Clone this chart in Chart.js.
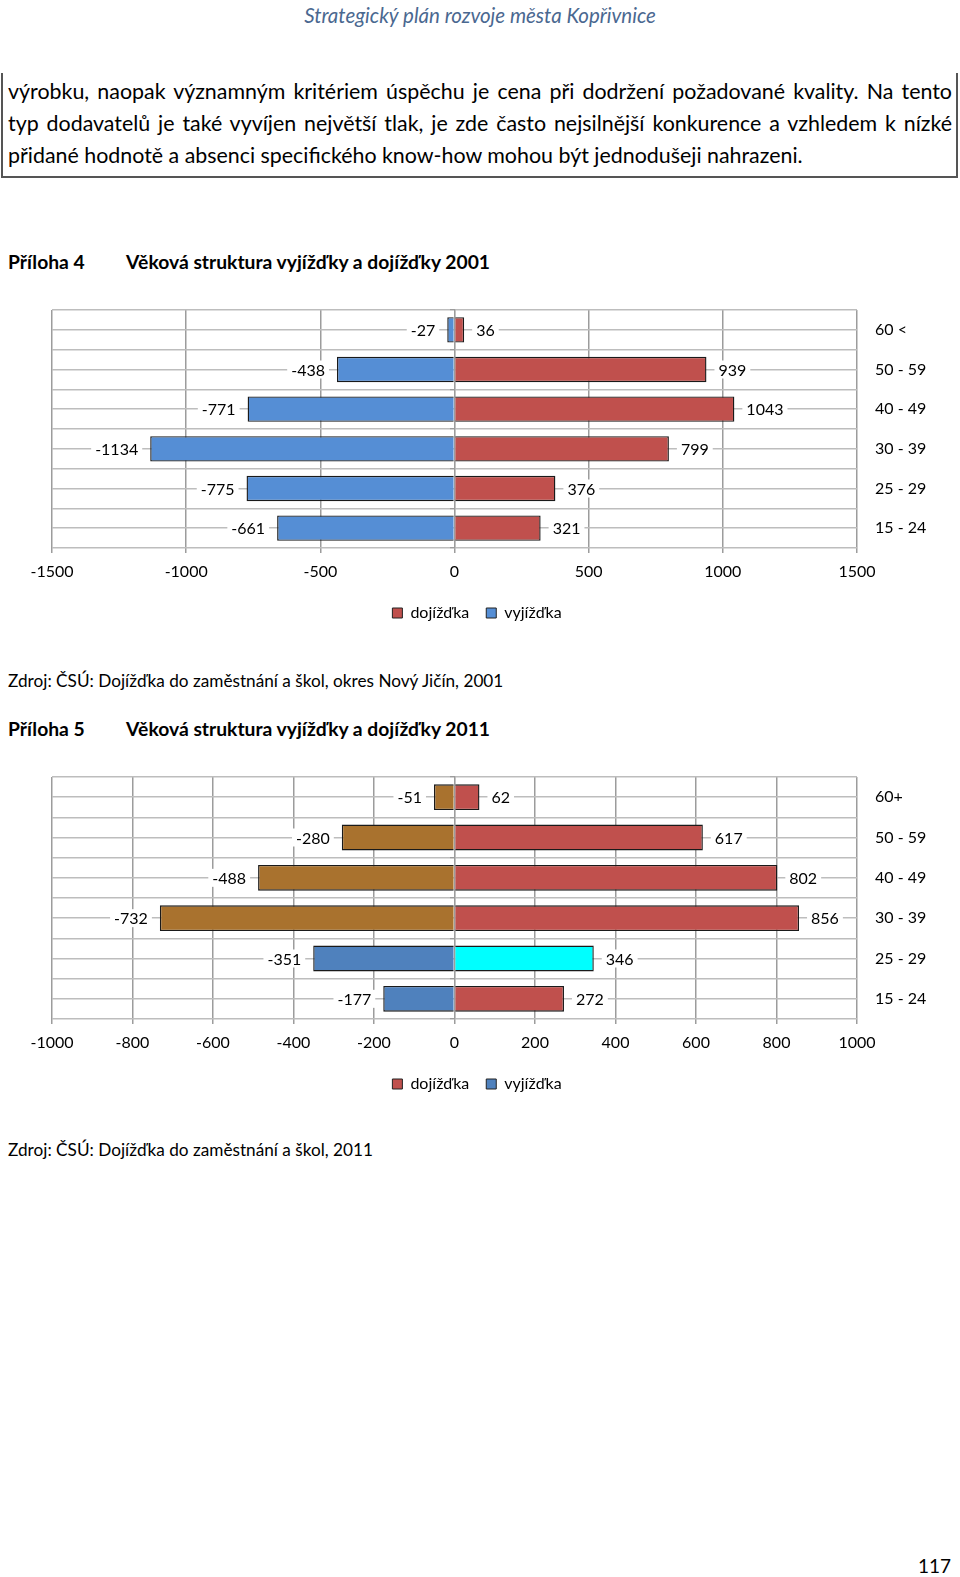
<!DOCTYPE html>
<html>
<head>
<meta charset="utf-8">
<script src="https://cdn.jsdelivr.net/npm/chart.js@4"></script>
<style>
 body{margin:0;width:960px;height:1577px;background:#fff;position:relative;font-family:Lato,sans-serif;color:#000;overflow:hidden}
 .t{position:absolute;white-space:nowrap}
 #head{left:0;width:960px;text-align:center;top:3px;line-height:24px;font-size:20.5px;font-style:italic;color:#4A6890}
 #box{position:absolute;left:1px;top:73px;width:944px;height:101px;border:2px solid #555;border-top:none;padding:0 4px 0 5px}
 #box div{font-size:21.4px;line-height:32.2px;white-space:nowrap}
 #box .j{text-align:justify;text-align-last:justify}
 .h{font-weight:bold;font-size:19.3px;line-height:24px}
 .src{font-size:17.2px;line-height:22px}
 canvas{position:absolute;left:0}
</style>
</head>
<body>
<div class="t" id="head">Strategický plán rozvoje města Kopřivnice</div>
<div id="box" style="padding-top:2px">
 <div class="j">výrobku, naopak významným kritériem úspěchu je cena při dodržení požadované kvality. Na tento</div>
 <div class="j">typ dodavatelů je také vyvíjen největší tlak, je zde často nejsilnější konkurence a vzhledem k nízké</div>
 <div>přidané hodnotě a absenci specifického know-how mohou být jednodušeji nahrazeni.</div>
</div>

<div class="t h" style="left:8px;top:250px">Příloha 4</div>
<div class="t h" style="left:126px;top:250px">Věková struktura vyjížďky a dojížďky 2001</div>
<div style="position:absolute;left:0;top:290px;width:960px;height:341px"><canvas id="c1"></canvas></div>
<div class="t src" style="left:8px;top:670px">Zdroj: ČSÚ: Dojížďka do zaměstnání a škol, okres Nový Jičín, 2001</div>

<div class="t h" style="left:8px;top:717px">Příloha 5</div>
<div class="t h" style="left:126px;top:717px">Věková struktura vyjížďky a dojížďky 2011</div>
<div style="position:absolute;left:0;top:755px;width:960px;height:347px"><canvas id="c2"></canvas></div>
<div class="t src" style="left:8px;top:1139px">Zdroj: ČSÚ: Dojížďka do zaměstnání a škol, 2011</div>

<div class="t" style="left:918px;top:1554px;font-size:19px;line-height:24px">117</div>

<script>
// data
const ageGroups2001 = ['60 <', '50 - 59', '40 - 49', '30 - 39', '25 - 29', '15 - 24'];
const dojizdka2001 = [36, 939, 1043, 799, 376, 321];
const vyjizdka2001 = [-27, -438, -771, -1134, -775, -661];
const xRange2001 = [-1500, 1500, 500];

const ageGroups2011 = ['60+', '50 - 59', '40 - 49', '30 - 39', '25 - 29', '15 - 24'];
const dojizdka2011 = [62, 617, 802, 856, 346, 272];
const vyjizdka2011 = [-51, -280, -488, -732, -351, -177];
const xRange2011 = [-1000, 1000, 200];

const legendNames = ['dojížďka', 'vyjížďka'];
const RED = '#C0504D', BLUE1 = '#558ED5', BLUE2 = '#4F81BD', BROWN = '#A9722E', CYAN = '#00FFFF';
const dojColors2001 = RED;
const vyjColors2001 = BLUE1;
const dojColors2011 = [RED, RED, RED, RED, CYAN, RED];
const vyjColors2011 = [BROWN, BROWN, BROWN, BROWN, BLUE2, BLUE2];
const legendColors1 = [RED, BLUE1];
const legendColors2 = [RED, BLUE2];

const FONT = {family: 'Lato', size: 16};
const GRID_V = '#9c9c9c', GRID_H = '#bdbdbd';

// value labels next to bar ends, on white so grid lines break
const barLabels = {
 id: 'barLabels',
 afterLayout(chart) {
  // let the right-hand category labels run past the narrow axis box
  chart.scales.y.right = chart.width;
 },
 afterDatasetsDraw(chart) {
  const ctx = chart.ctx;
  ctx.save();
  ctx.font = '16px Lato';
  ctx.textBaseline = 'middle';
  chart.data.datasets.forEach((ds, i) => {
   chart.getDatasetMeta(i).data.forEach((bar, j) => {
    const v = ds.data[j];
    const txt = String(v);
    const w = ctx.measureText(txt).width;
    const x = v < 0 ? bar.x - 12 - w : bar.x + 12;
    ctx.fillStyle = '#fff';
    ctx.fillRect(x - 4, bar.y - 9, w + 8, 18);
    ctx.fillStyle = '#000';
    ctx.fillText(txt, x, bar.y + 1);
   });
  });
  ctx.restore();
 }
};

function makeChart(id, labels, doj, vyj, dojCol, vyjCol, range, legendCol, padTop) {
 return new Chart(document.getElementById(id), {
  type: 'bar',
  data: {
   labels: labels,
   datasets: [
    {label: legendNames[0], data: doj, backgroundColor: dojCol, borderColor: '#1a1a1a', borderWidth: 1.4},
    {label: legendNames[1], data: vyj, backgroundColor: vyjCol, borderColor: '#1a1a1a', borderWidth: 1.4}
   ]
  },
  options: {
   indexAxis: 'y',
   responsive: true,
   maintainAspectRatio: false,
   animation: false,
   datasets: {bar: {categoryPercentage: 1, barPercentage: 0.64}},
   layout: {padding: {top: padTop, left: 52, right: 58, bottom: 0}},
   plugins: {
    tooltip: {enabled: false},
    legend: {
     position: 'bottom',
     labels: {
      boxWidth: 10, boxHeight: 10, padding: 17, color: '#000', font: FONT,
      generateLabels: () => legendNames.map((n, i) => ({
       text: n, fillStyle: legendCol[i], strokeStyle: '#222', lineWidth: 1, datasetIndex: i
      }))
     }
    }
   },
   scales: {
    x: {
     stacked: true, min: range[0], max: range[1],
     grid: {color: GRID_V, lineWidth: 1.5, tickLength: 5},
     border: {display: false},
     ticks: {stepSize: range[2], color: '#000', font: FONT, padding: 9, maxRotation: 0,
      callback: v => String(v)},
     afterFit: s => { s.height = 40; }
    },
    y: {
     stacked: true, position: 'right', offset: true,
     grid: {offset: true, color: GRID_H, lineWidth: 1.5, drawTicks: true, tickLength: 18, tickColor: 'rgba(0,0,0,0)'},
     border: {display: false},
     ticks: {color: '#000', font: FONT, padding: 0},
     afterFit: s => { s.width = 45; }
    },
    yc: {
     type: 'category', position: 'left', offset: true,
     grid: {offset: false, color: GRID_H, lineWidth: 1.5, drawTicks: false},
     border: {display: false},
     ticks: {display: false},
     afterFit: s => { s.width = 0; }
    },
    y0: {
     type: 'category', position: {x: 0}, offset: true, z: 1,
     grid: {offset: true, drawOnChartArea: false, drawTicks: true, tickLength: 4, color: GRID_V, lineWidth: 1.2},
     border: {display: true, color: GRID_V, width: 1.2},
     ticks: {display: false}
    }
   }
  },
  plugins: [barLabels]
 });
}

makeChart('c1', ageGroups2001, dojizdka2001, vyjizdka2001, dojColors2001, vyjColors2001, xRange2001, legendColors1, 20);
makeChart('c2', ageGroups2011, dojizdka2011, vyjizdka2011, dojColors2011, vyjColors2011, xRange2011, legendColors2, 22);
</script>
</body>
</html>
